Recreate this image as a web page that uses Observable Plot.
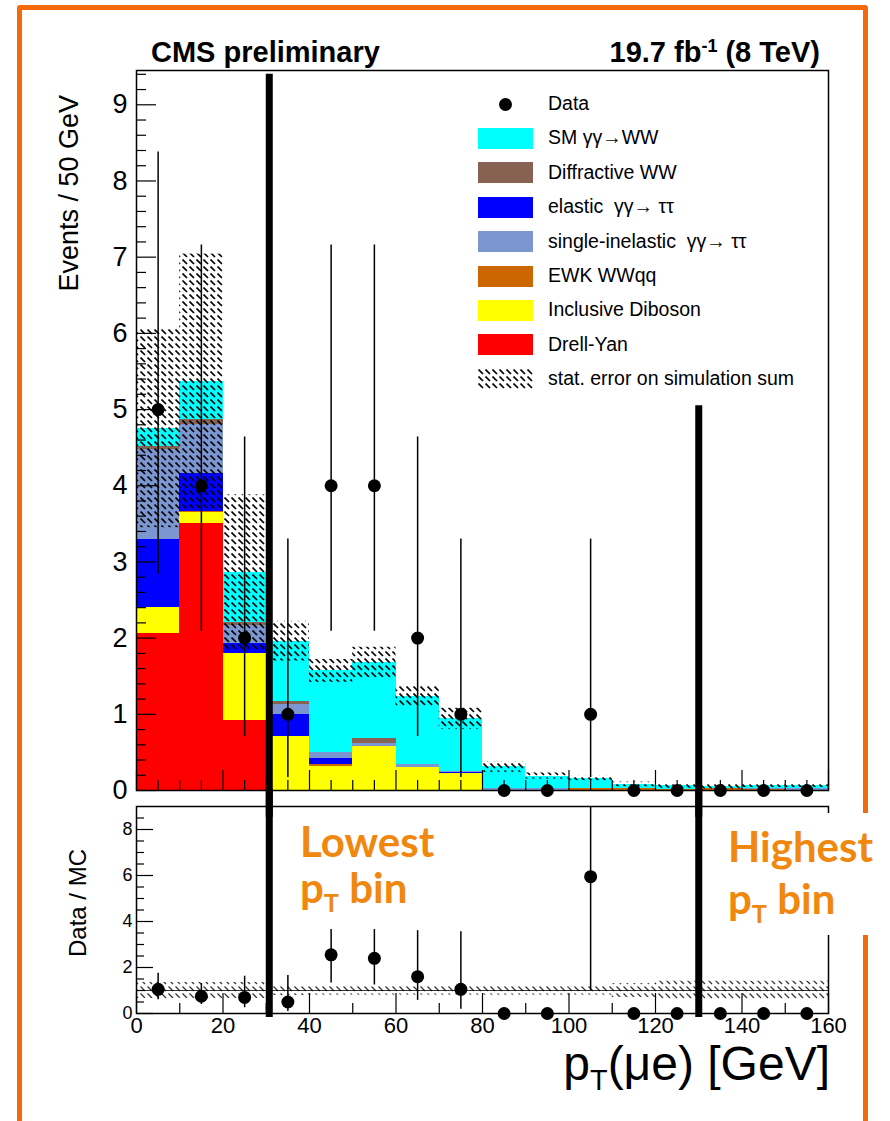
<!DOCTYPE html>
<html><head><meta charset="utf-8">
<script src="https://cdn.jsdelivr.net/npm/d3@7"></script>
<script src="https://cdn.jsdelivr.net/npm/@observablehq/plot@0.6"></script>
<style>
body{margin:0;background:#fff;}
#wrap{position:relative;width:890px;height:1121px;overflow:hidden;background:#fff;font-family:"Liberation Sans",Arial,sans-serif;color:#000;}
.abs{position:absolute;white-space:nowrap;}
.orange{color:#F0870E;font-family:Lato,"Open Sans",sans-serif;font-weight:700;font-size:42px;}
.leg{position:absolute;left:548px;font-size:19.5px;line-height:21px;white-space:nowrap;}
.sw{position:absolute;left:478px;width:55px;height:21px;}
sub.t{font-size:60%;vertical-align:-0.35em;}
</style></head><body><div id="wrap"></div>
<script>
// ---- data ----
const binLow = [0,10,20,30,40,50,60,70,80,90,100,110,120,130,140,150];
const binWidth = 10;
const processes = ["Drell-Yan","Inclusive Diboson","EWK WWqq","elastic γγ→ ττ","single-inelastic γγ→ ττ","Diffractive WW","SM γγ→WW"];
const processColors = ["#FF0000","#FFFF00","#CC6600","#0000FF","#7B96D0","#876253","#00FFFF"];
const drellYan    = [2.06,3.50,0.92,0,0,0,0,0,0,0,0,0,0,0,0,0];
const diboson     = [0.34,0.15,0.88,0.71,0.32,0.58,0.30,0.22,0,0,0,0,0,0,0,0];
const ewkWWqq     = [0,0.01,0,0,0.02,0,0,0,0,0,0.02,0.02,0.01,0.03,0.01,0];
const elasticTT   = [0.89,0.50,0.13,0.29,0.08,0,0,0.02,0,0,0,0,0,0,0,0];
const singleInelTT= [1.18,0.65,0.23,0.13,0.08,0.04,0.04,0.01,0.03,0.02,0,0,0,0,0.01,0.03];
const diffractWW  = [0.05,0.06,0.04,0.04,0,0.06,0,0,0,0,0,0,0,0,0,0];
const smWW        = [0.23,0.50,0.66,0.79,1.07,1.00,0.90,0.69,0.28,0.17,0.14,0.06,0.05,0.02,0.04,0.03];
const mcStatErr   = [1.30,1.67,1.02,0.26,0.15,0.20,0.14,0.14,0.07,0.04,0.03,0.03,0.03,0.03,0.02,0.02];
const dataCounts  = [5,4,2,1,4,4,2,1,0,0,1,0,0,0,0,0];
const dataLowEdge = [2.84,2.09,0.71,0.17,2.09,2.09,0.71,0.17,0,0,0.17,0,0,0,0,0];
const dataHighEdge= [8.38,7.16,4.64,3.30,7.16,7.16,4.64,3.30,0,0,3.30,0,0,0,0,0];
const ratio       = [1.05,0.75,0.70,0.50,2.55,2.40,1.60,1.05,0,0,5.95,0,0,0,0,0];
const ratioLowEdge  = [0.60,0.39,0.25,0.09,1.33,1.24,0.57,0.18,0,0,1.00,0,0,0,0,0];
const ratioHighEdge = [1.75,1.30,1.62,1.65,3.65,3.65,3.60,3.55,0,0,19.5,0,0,0,0,0];
const ratioBand   = [0.35,0.35,0.35,0.22,0.2,0.2,0.2,0.2,0.2,0.2,0.2,0.3,0.4,0.4,0.4,0.4];
const annotationEdges = [30.7, 130];
const annotationTops  = [9.4, 5.05];
const yTicksTop = [0,1,2,3,4,5,6,7,8,9];
const yTicksBottom = [0,2,4,6,8];
const xTicks = [0,20,40,60,80,100,120,140,160];

// ---- tables ----
const series = [drellYan,diboson,ewkWWqq,elasticTT,singleInelTT,diffractWW,smWW];
const stackRows = [];
processes.forEach((p,i)=>binLow.forEach((x,j)=>stackRows.push({process:p,x1:x,x2:x+binWidth,value:series[i][j]})));
const bins = binLow.map((x,j)=>{
  const total = series.reduce((s,a)=>s+a[j],0);
  return {x1:x,x2:x+binWidth,xc:x+binWidth/2,total,err:mcStatErr[j],
    n:dataCounts[j],lo:dataLowEdge[j],hi:dataHighEdge[j],
    r:ratio[j],rlo:ratioLowEdge[j],rhi:Math.min(9,ratioHighEdge[j]),rb:ratioBand[j]};
});
const errBins = bins.filter(d=>d.n>0);
const edges = annotationEdges.map((x,i)=>({x,top:annotationTops[i]}));

const FW = 890-136-62;   // frame width
const FH1 = 800-70-10;   // top frame height
const FH2 = 331-16-108;  // bottom frame height
const font = "Liberation Sans, Arial, sans-serif";

const topPlot = Plot.plot({
  width:890,height:800,marginLeft:136,marginRight:62,marginTop:70,marginBottom:10,
  style:{background:"transparent",overflow:"visible"},
  x:{domain:[0,160],axis:null},
  y:{domain:[0,9.45],axis:null},
  color:{type:"ordinal",domain:processes,range:processColors},
  marks:[
    Plot.rectY(stackRows, Plot.stackY({x1:"x1",x2:"x2",y:"value",fill:"process",order:processes,inset:0,shapeRendering:"crispEdges"})),
    Plot.rectY(bins,{x1:"x1",x2:"x2",y1:d=>d.total-d.err,y2:d=>d.total+d.err,fill:"url(#hatchA)",inset:0}),
    Plot.tickY(d3.range(0,9.41,0.2).filter(v=>Math.abs(v-Math.round(v))>0.01),{y:d=>d,insetRight:FW-10,stroke:"#000",strokeWidth:1.2}),
    Plot.tickY(yTicksTop,{y:d=>d,insetRight:FW-20,stroke:"#000",strokeWidth:1.2}),
    Plot.tickX(d3.range(5,160,5).filter(v=>v%20!==0),{x:d=>d,insetTop:FH1-10,stroke:"#000",strokeWidth:1.2}),
    Plot.tickX(xTicks,{x:d=>d,insetTop:FH1-20,stroke:"#000",strokeWidth:1.2}),
    Plot.axisY(yTicksTop,{tickSize:0,tickPadding:9,fontSize:27,fontFamily:font,tickFormat:d=>String(d)}),
    Plot.frame({stroke:"#000",strokeWidth:1.5}),
    Plot.ruleX(errBins,{x:"xc",y1:"lo",y2:"hi",stroke:"#000",strokeWidth:1.5}),
    Plot.dot(bins,{x:"xc",y:"n",r:6.5,fill:"#000",stroke:null}),
    Plot.ruleX(edges,{x:"x",y1:"top",y2:-0.35,stroke:"#000",strokeWidth:7})
  ]
});

const botPlot = Plot.plot({
  width:890,height:331,marginLeft:136,marginRight:62,marginTop:16,marginBottom:108,
  style:{background:"transparent",overflow:"visible"},
  x:{domain:[0,160],axis:null},
  y:{domain:[0,9],axis:null},
  marks:[
    Plot.rectY(bins,{x1:"x1",x2:"x2",y1:d=>1-d.rb,y2:d=>1+d.rb,fill:"url(#hatchB)",inset:0}),
    Plot.ruleY([1],{stroke:"#000",strokeWidth:0.8}),
    Plot.tickY(d3.range(0.5,9,0.5).filter(v=>v%2!==0),{y:d=>d,insetRight:FW-8,stroke:"#000",strokeWidth:1.2}),
    Plot.tickY(yTicksBottom,{y:d=>d,insetRight:FW-17,stroke:"#000",strokeWidth:1.2}),
    Plot.tickX(d3.range(10,160,20),{x:d=>d,insetTop:FH2-10,stroke:"#000",strokeWidth:1.2}),
    Plot.tickX(xTicks,{x:d=>d,insetTop:FH2-20,stroke:"#000",strokeWidth:1.2}),
    Plot.axisY(yTicksBottom,{tickSize:0,tickPadding:4,fontSize:18,fontFamily:font,tickFormat:d=>String(d)}),
    Plot.axisX(xTicks,{tickSize:0,tickPadding:4,fontSize:22,fontFamily:font,tickFormat:d=>String(d)}),
    Plot.frame({stroke:"#000",strokeWidth:1.5}),
    Plot.ruleX(errBins,{x:"xc",y1:"rlo",y2:"rhi",stroke:"#000",strokeWidth:1.5}),
    Plot.dot(bins,{x:"xc",y:"r",r:6.5,fill:"#000",stroke:null}),
    Plot.ruleX(edges,{x:"x",y1:9.75,y2:-0.17,stroke:"#000",strokeWidth:7})
  ]
});

function addDefs(svg, id, color, sw){
  d3.select(svg).insert("defs",":first-child").html(
    `<pattern id="${id}" patternUnits="userSpaceOnUse" width="7" height="7"><path d="M0.5,0.5 L5,5" stroke="${color}" stroke-width="${sw}" fill="none"/></pattern>`);
}
addDefs(topPlot,"hatchA","#000",1.7);
addDefs(botPlot,"hatchB","#333",1.2);

const wrap = document.getElementById("wrap");
// orange border
const border = document.createElement("div");
border.className="abs";
Object.assign(border.style,{left:"17px",top:"5px",width:"841px",height:"1120px",border:"5px solid #F26A0A",borderRadius:"3px"});
wrap.appendChild(border);

topPlot.style.position="absolute"; topPlot.style.left="0px"; topPlot.style.top="0px";
botPlot.style.position="absolute"; botPlot.style.left="0px"; botPlot.style.top="790px";
wrap.appendChild(topPlot); wrap.appendChild(botPlot);

function addHTML(html){ wrap.insertAdjacentHTML("beforeend", html); }
addHTML(`<div class="abs" style="left:151px;top:36px;font-size:29px;font-weight:bold;">CMS preliminary</div>`);
addHTML(`<div class="abs" style="right:70px;top:36px;font-size:29px;font-weight:bold;">19.7 fb<sup style="font-size:62%;vertical-align:0.55em;line-height:0">-1</sup> (8 TeV)</div>`);
addHTML(`<div class="abs" style="left:70px;top:95px;font-size:27px;transform-origin:0 0;transform:translate(-16px,198px) rotate(-90deg);width:198px;text-align:right;">Events / 50 GeV</div>`);
addHTML(`<div class="abs" style="left:78px;top:903px;font-size:24px;transform:translate(-50%,-50%) rotate(-90deg);">Data / MC</div>`);
addHTML(`<div class="abs" style="right:60px;top:1036px;font-size:48px;line-height:56px;">p<sub class="t">T</sub>(μe) [GeV]</div>`);

// legend
const legRows = [
  {label:"Data",kind:"dot"},
  {label:"SM γγ→WW",kind:"fill",c:processColors[6]},
  {label:"Diffractive WW",kind:"fill",c:processColors[5]},
  {label:"elastic&nbsp; γγ→ ττ",kind:"fill",c:processColors[3]},
  {label:"single-inelastic&nbsp; γγ→ ττ",kind:"fill",c:processColors[4]},
  {label:"EWK WWqq",kind:"fill",c:processColors[2]},
  {label:"Inclusive Diboson",kind:"fill",c:processColors[1]},
  {label:"Drell-Yan",kind:"fill",c:processColors[0]},
  {label:"stat. error on simulation sum",kind:"hatch"}
];
legRows.forEach((r,i)=>{
  const cy = 104 + i*34.4;
  let sw = "";
  if(r.kind==="dot") sw = `<svg class="sw" style="top:${cy-10.5}px" width="55" height="21"><circle cx="27.5" cy="10.5" r="6.5" fill="#000"/></svg>`;
  else if(r.kind==="fill") sw = `<div class="sw" style="top:${cy-10.5}px;background:${r.c};"></div>`;
  else sw = `<svg class="sw" style="top:${cy-10.5}px" width="55" height="21"><defs><pattern id="hatchL" patternUnits="userSpaceOnUse" width="7" height="7"><path d="M0.5,0.5 L5,5" stroke="#000" stroke-width="1.7"/></pattern></defs><rect width="55" height="21" fill="url(#hatchL)"/></svg>`;
  addHTML(sw + `<div class="leg" style="top:${cy-11}px">${r.label}</div>`);
});

// annotations
addHTML(`<div class="abs orange" style="left:300px;top:818px;line-height:46px;">Lowest<br>p<sub class="t">T</sub> bin</div>`);
addHTML(`<div class="abs" style="left:703px;top:813px;width:190px;height:122px;background:#fff;"></div>`);
addHTML(`<div class="abs orange" style="left:728px;top:820px;line-height:52px;">Highest<br>p<sub class="t">T</sub> bin</div>`);
</script></body></html>
